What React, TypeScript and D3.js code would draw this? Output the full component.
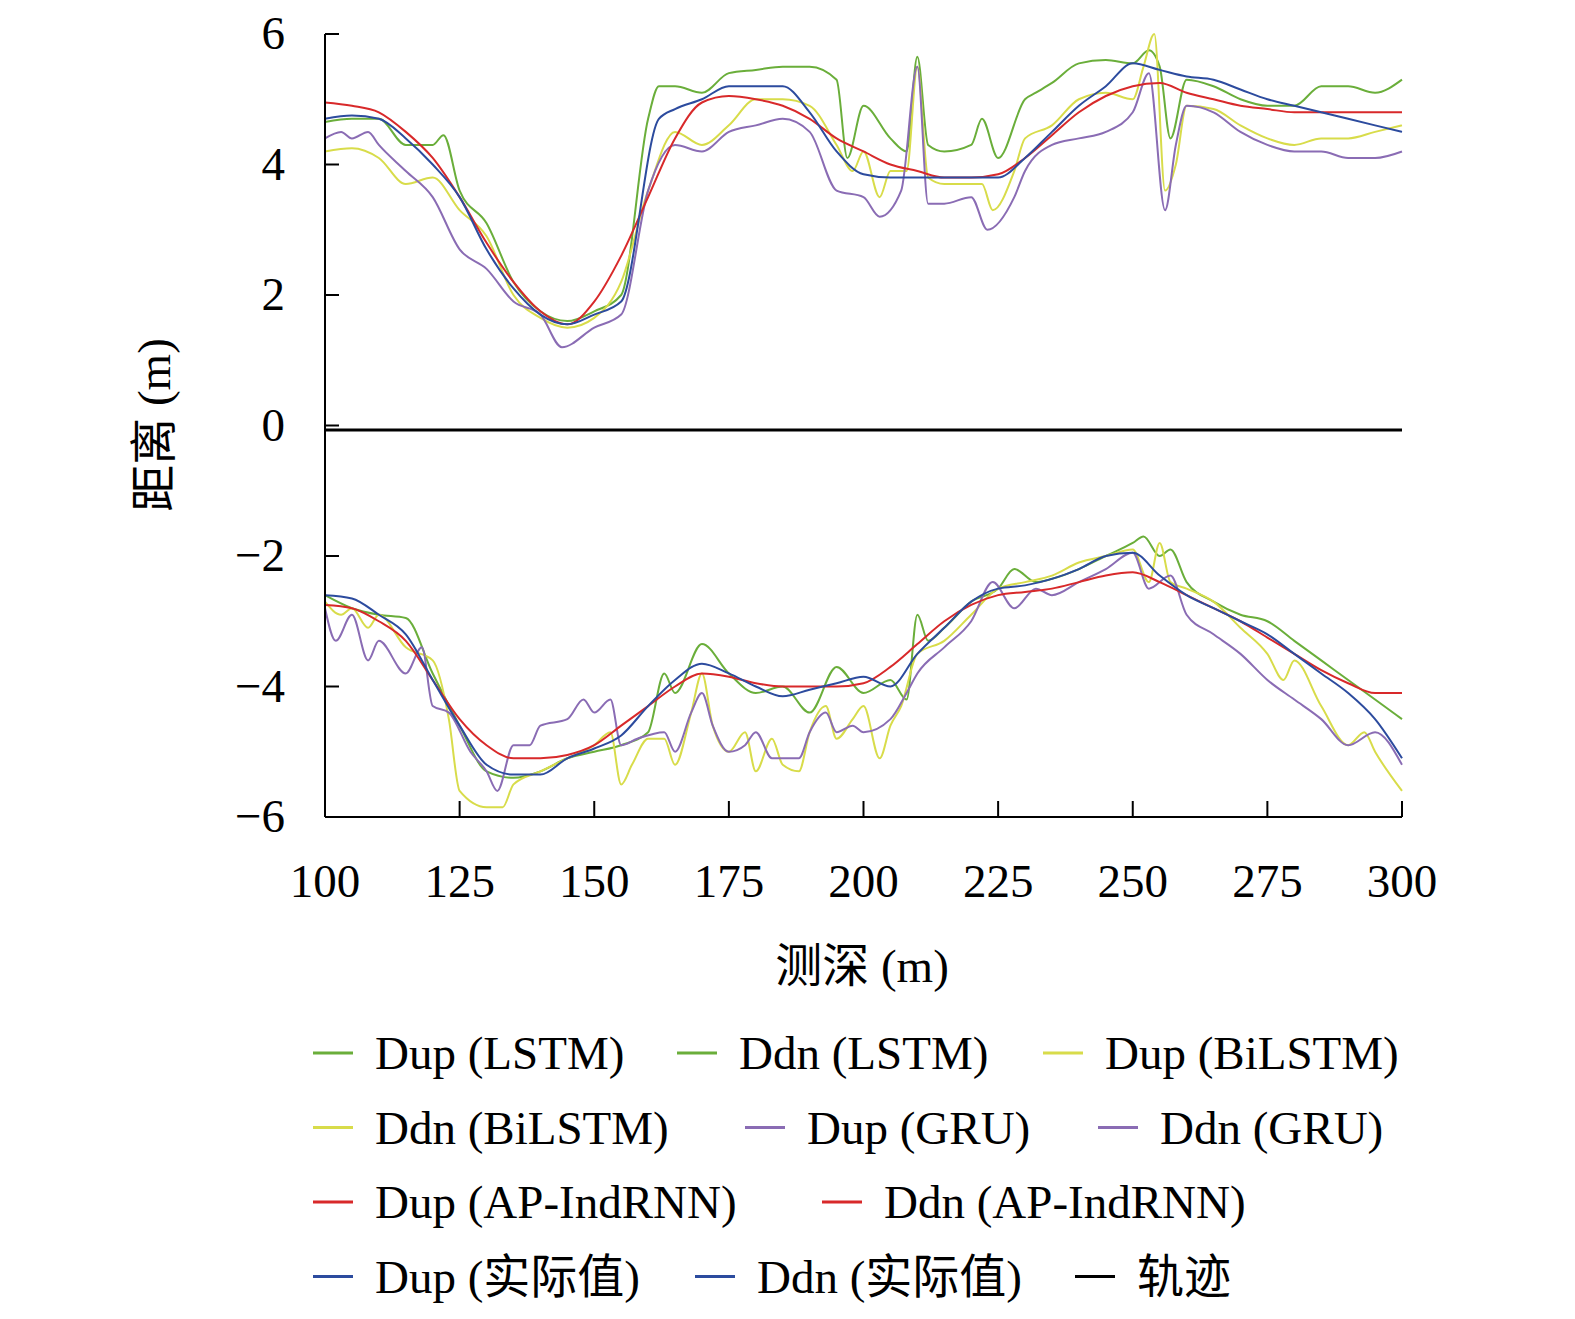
import React from "react";
import * as d3 from "d3";

type P = [number, number];
const dupActual: P[] = [[100,4.7],[105,4.75],[110,4.7],[115,4.4],[120,4.0],[125,3.5],[130,2.7],[135,2.1],[140,1.7],[145,1.55],[150,1.7],[155,1.9],[162,4.7],[165,4.85],[170,5.0],[175,5.2],[185,5.2],[190,4.8],[195,4.2],[200,3.85],[205,3.8],[225,3.8],[230,4.1],[235,4.5],[240,4.9],[245,5.2],[250,5.55],[255,5.45],[260,5.35],[265,5.3],[270,5.15],[275,5.0],[280,4.9],[285,4.8],[290,4.7],[295,4.6],[300,4.5]];
const dupRed: P[] = [[100,4.95],[105,4.9],[110,4.8],[115,4.5],[120,4.1],[125,3.5],[130,2.8],[135,2.2],[140,1.75],[145,1.55],[150,1.9],[155,2.6],[160,3.5],[165,4.4],[170,4.95],[175,5.05],[180,5.0],[185,4.9],[190,4.7],[195,4.4],[200,4.2],[205,4.0],[210,3.9],[215,3.8],[220,3.8],[225,3.85],[230,4.1],[235,4.45],[240,4.8],[245,5.05],[250,5.2],[255,5.25],[260,5.1],[265,5.0],[270,4.9],[275,4.85],[280,4.8],[290,4.8],[300,4.8]];
const dupLSTM: P[] = [[100,4.65],[105,4.7],[110,4.7],[115,4.3],[120,4.3],[122,4.45],[125,3.6],[130,3.1],[135,2.2],[140,1.75],[145,1.6],[150,1.75],[155,2.0],[160,4.7],[162,5.2],[165,5.2],[170,5.1],[175,5.4],[180,5.45],[185,5.5],[190,5.5],[195,5.3],[197,4.1],[200,4.9],[205,4.4],[208,4.2],[210,5.65],[212,4.3],[215,4.2],[220,4.3],[222,4.7],[225,4.1],[230,5.0],[232,5.1],[235,5.25],[240,5.55],[245,5.6],[250,5.55],[253,5.75],[255,5.5],[257,4.4],[260,5.3],[265,5.2],[270,5.0],[275,4.9],[280,4.9],[285,5.2],[290,5.2],[295,5.1],[300,5.3]];
const dupBi: P[] = [[100,4.2],[105,4.25],[110,4.1],[115,3.7],[120,3.8],[125,3.3],[130,2.9],[135,2.0],[140,1.65],[145,1.5],[150,1.65],[155,2.2],[160,3.6],[165,4.5],[170,4.3],[175,4.6],[180,5.0],[185,5.0],[190,4.9],[195,4.3],[198,3.9],[200,4.2],[203,3.5],[205,3.9],[208,3.9],[210,5.5],[212,3.8],[215,3.7],[220,3.7],[222,3.7],[224,3.3],[228,3.9],[230,4.4],[235,4.6],[240,5.0],[245,5.1],[250,5.0],[252,5.5],[254,6.0],[256,3.6],[258,4.0],[260,4.9],[265,4.85],[270,4.6],[275,4.4],[280,4.3],[285,4.4],[290,4.4],[295,4.5],[300,4.6]];
const dupGRU: P[] = [[100,4.4],[103,4.5],[105,4.4],[108,4.5],[110,4.3],[115,3.9],[120,3.5],[125,2.7],[130,2.4],[135,1.9],[140,1.7],[144,1.2],[150,1.5],[155,1.7],[160,3.6],[165,4.3],[170,4.2],[175,4.5],[180,4.6],[185,4.7],[190,4.5],[195,3.6],[200,3.5],[203,3.2],[207,3.6],[210,5.5],[212,3.4],[215,3.4],[220,3.5],[223,3.0],[228,3.5],[230,3.9],[235,4.3],[240,4.4],[245,4.5],[250,4.8],[253,5.4],[256,3.3],[258,4.3],[260,4.9],[265,4.8],[270,4.5],[275,4.3],[280,4.2],[285,4.2],[290,4.1],[295,4.1],[300,4.2]];
const ddnActual: P[] = [[100,-2.6],[105,-2.65],[110,-2.9],[115,-3.2],[120,-3.9],[125,-4.6],[130,-5.2],[135,-5.35],[140,-5.35],[145,-5.1],[150,-4.95],[155,-4.75],[160,-4.3],[165,-3.9],[170,-3.65],[175,-3.8],[180,-4.0],[185,-4.15],[190,-4.05],[195,-3.95],[200,-3.85],[205,-4.0],[210,-3.5],[215,-3.1],[220,-2.7],[225,-2.5],[230,-2.45],[235,-2.35],[240,-2.2],[245,-2.0],[250,-1.95],[255,-2.3],[260,-2.6],[265,-2.8],[270,-3.0],[275,-3.2],[280,-3.5],[285,-3.8],[290,-4.1],[295,-4.5],[300,-5.1]];
const ddnRed: P[] = [[100,-2.75],[105,-2.8],[110,-3.0],[115,-3.3],[120,-3.9],[125,-4.5],[130,-4.9],[135,-5.1],[140,-5.1],[145,-5.05],[150,-4.9],[155,-4.6],[160,-4.3],[165,-4.0],[170,-3.8],[175,-3.85],[180,-3.95],[185,-4.0],[195,-4.0],[200,-3.95],[205,-3.7],[210,-3.35],[215,-3.0],[220,-2.75],[225,-2.6],[230,-2.55],[235,-2.5],[240,-2.4],[245,-2.3],[250,-2.25],[255,-2.4],[260,-2.6],[265,-2.8],[270,-3.0],[275,-3.25],[280,-3.5],[285,-3.75],[290,-3.95],[295,-4.1],[300,-4.1]];
const ddnLSTM: P[] = [[100,-2.6],[105,-2.8],[110,-2.9],[115,-2.95],[120,-3.8],[125,-4.6],[130,-5.3],[135,-5.4],[140,-5.3],[145,-5.1],[150,-5.0],[155,-4.9],[160,-4.7],[163,-3.8],[165,-4.1],[170,-3.35],[175,-3.8],[180,-4.1],[185,-4.0],[190,-4.4],[195,-3.7],[200,-4.1],[205,-3.9],[208,-4.2],[210,-2.9],[212,-3.3],[215,-3.1],[220,-2.7],[225,-2.5],[228,-2.2],[232,-2.4],[235,-2.35],[240,-2.2],[245,-2.0],[250,-1.8],[252,-1.7],[255,-2.0],[257,-1.9],[260,-2.4],[265,-2.7],[270,-2.9],[275,-3.0],[280,-3.3],[285,-3.6],[290,-3.9],[295,-4.2],[300,-4.5]];
const ddnBi: P[] = [[100,-2.7],[103,-2.9],[105,-2.8],[108,-3.1],[110,-2.9],[115,-3.4],[120,-3.6],[123,-4.5],[125,-5.6],[130,-5.85],[133,-5.85],[135,-5.5],[140,-5.3],[145,-5.1],[150,-4.9],[153,-4.7],[155,-5.5],[157,-5.2],[160,-4.8],[163,-4.8],[165,-5.2],[168,-4.4],[170,-3.8],[172,-4.6],[175,-5.0],[178,-4.7],[180,-5.3],[183,-4.8],[185,-5.2],[188,-5.3],[190,-4.7],[193,-4.3],[195,-4.8],[198,-4.5],[200,-4.3],[203,-5.1],[205,-4.6],[207,-4.3],[210,-3.5],[215,-3.3],[220,-2.9],[225,-2.5],[230,-2.4],[235,-2.3],[240,-2.1],[245,-2.0],[250,-1.9],[253,-2.4],[255,-1.8],[257,-2.4],[260,-2.5],[265,-2.7],[270,-3.1],[275,-3.5],[278,-3.9],[280,-3.6],[285,-4.3],[290,-4.9],[293,-4.7],[295,-5.0],[300,-5.6]];
const ddnGRU: P[] = [[100,-2.8],[102,-3.3],[105,-2.9],[108,-3.6],[110,-3.3],[115,-3.8],[118,-3.4],[120,-4.3],[123,-4.4],[127,-5.0],[130,-5.3],[132,-5.6],[135,-4.9],[138,-4.9],[140,-4.6],[145,-4.5],[148,-4.2],[150,-4.4],[153,-4.2],[155,-4.9],[158,-4.8],[163,-4.7],[165,-5.0],[168,-4.4],[170,-4.1],[172,-4.6],[175,-5.0],[178,-4.9],[180,-4.7],[183,-5.1],[188,-5.1],[190,-4.7],[193,-4.4],[195,-4.7],[198,-4.6],[200,-4.7],[205,-4.5],[208,-4.1],[210,-3.8],[215,-3.4],[220,-3.0],[224,-2.4],[228,-2.8],[232,-2.5],[235,-2.6],[240,-2.4],[245,-2.2],[250,-1.95],[253,-2.5],[257,-2.3],[260,-2.9],[265,-3.2],[270,-3.5],[275,-3.9],[280,-4.2],[285,-4.5],[290,-4.9],[295,-4.7],[300,-5.2]];
const trajectory: P[] = [[100,-0.07],[300,-0.07]];
const xTicks = [100,125,150,175,200,225,250,275,300];
const yTicks = [6,4,2,0,-2,-4,-6];

const GREEN = "#6aae3a", YELLOW = "#d8dc4a", PURPLE = "#8a6cb4", RED = "#d8292a", BLUE = "#2c4b9e";
const series = [
  { d: dupLSTM, c: GREEN }, { d: ddnLSTM, c: GREEN },
  { d: dupBi, c: YELLOW }, { d: ddnBi, c: YELLOW },
  { d: dupGRU, c: PURPLE }, { d: ddnGRU, c: PURPLE },
  { d: dupRed, c: RED }, { d: ddnRed, c: RED },
  { d: dupActual, c: BLUE }, { d: ddnActual, c: BLUE },
  { d: trajectory, c: "#000" },
];
const legend = [
  [{ t: "Dup (LSTM)", c: GREEN, x: 313 }, { t: "Ddn (LSTM)", c: GREEN, x: 677 }, { t: "Dup (BiLSTM)", c: YELLOW, x: 1043 }],
  [{ t: "Ddn (BiLSTM)", c: YELLOW, x: 313 }, { t: "Dup (GRU)", c: PURPLE, x: 745 }, { t: "Ddn (GRU)", c: PURPLE, x: 1098 }],
  [{ t: "Dup (AP-IndRNN)", c: RED, x: 313 }, { t: "Ddn (AP-IndRNN)", c: RED, x: 822 }],
  [{ t: "Dup (实际值)", c: BLUE, x: 313 }, { t: "Ddn (实际值)", c: BLUE, x: 695 }, { t: "轨迹", c: "#000", x: 1075 }],
];
const font = "'Liberation Serif', 'Noto Sans CJK SC', serif";

export default function App() {
  const x = d3.scaleLinear().domain([100, 300]).range([325, 1402]);
  const y = d3.scaleLinear().domain([-6, 6]).range([817, 34]);
  const line = d3.line<P>().x(p => x(p[0])).y(p => y(p[1])).curve(d3.curveMonotoneX);
  return (
    <svg width={1575} height={1319} style={{ position: "absolute", left: 0, top: 0, fontFamily: font }}>
      <rect width={1575} height={1319} fill="#fff" />
      {series.map((s, i) => (
        <path key={i} d={line(s.d) || ""} fill="none" stroke={s.c} strokeWidth={i === 10 ? 3 : 2} />
      ))}
      <line x1={325} x2={325} y1={34} y2={817} stroke="#000" strokeWidth={2} />
      <line x1={325} x2={1402} y1={817} y2={817} stroke="#000" strokeWidth={2} />
      {xTicks.map(t => (
        <g key={t}>
          <line x1={x(t)} x2={x(t)} y1={817} y2={801} stroke="#000" strokeWidth={2} />
          <text x={x(t)} y={897} textAnchor="middle" fontSize={47}>{t}</text>
        </g>
      ))}
      {yTicks.map(t => (
        <g key={t}>
          <line x1={325} x2={339} y1={y(t)} y2={y(t)} stroke="#000" strokeWidth={2} />
          <text x={285} y={y(t) + 15} textAnchor="end" fontSize={47}>{t < 0 ? "\u2212" + Math.abs(t) : t}</text>
        </g>
      ))}
      <text transform="translate(170,425) rotate(-90)" textAnchor="middle" fontSize={47}>距离 (m)</text>
      <text x={862} y={982} textAnchor="middle" fontSize={47}>测深 (m)</text>
      {legend.map((row, r) => row.map((it, k) => (
        <g key={r + "-" + k}>
          <line x1={it.x} x2={it.x + 40} y1={1053 + r * 74.5} y2={1053 + r * 74.5} stroke={it.c} strokeWidth={3} />
          <text x={it.x + 62} y={1069 + r * 74.5} fontSize={47}>{it.t}</text>
        </g>
      )))}
    </svg>
  );
}
